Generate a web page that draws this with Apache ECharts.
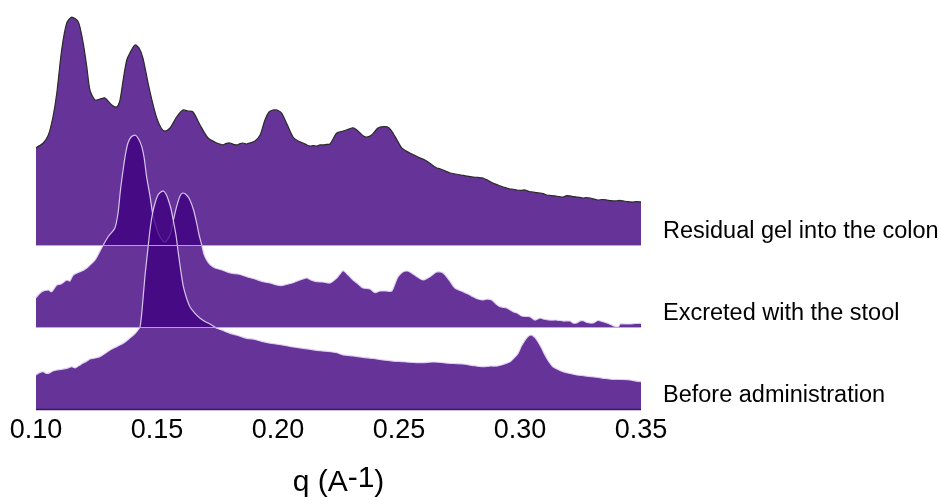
<!DOCTYPE html>
<html>
<head>
<meta charset="utf-8">
<title>SAXS ridgeline</title>
<script src="https://cdn.jsdelivr.net/npm/echarts@6/dist/echarts.min.js"></script>
<style>
  html, body { margin: 0; padding: 0; background: #ffffff; }
  #chart { width: 941px; height: 497px; }
</style>
</head>
<body>
<div id="chart"></div>
<script>
// Ridge names, bottom to top
const ridgeNames = ['Before administration', 'Excreted with the stool', 'Residual gel into the colon'];

// x tick labels
const qTicks = [0.10, 0.15, 0.20, 0.25, 0.30, 0.35];

// Residual gel into the colon
const qResidual = [0.1000,0.1030,0.1051,0.1070,0.1086,0.1106,0.1127,0.1148,0.1175,0.1195,0.1210,0.1223,0.1244,0.1264,0.1285,0.1313,0.1333,0.1347,0.1360,0.1375,0.1388,0.1409,0.1426,0.1442,0.1463,0.1479,0.1499,0.1517,0.1533,0.1554,0.1581,0.1607,0.1628,0.1649,0.1678,0.1711,0.1747,0.1760,0.1773,0.1787,0.1802,0.1816,0.1831,0.1843,0.1855,0.1870,0.1884,0.1905,0.1926,0.1946,0.1963,0.1979,0.1996,0.2015,0.2037,0.2062,0.2083,0.2103,0.2118,0.2132,0.2146,0.2160,0.2173,0.2186,0.2200,0.2215,0.2243,0.2269,0.2290,0.2310,0.2326,0.2339,0.2353,0.2367,0.2387,0.2413,0.2442,0.2459,0.2475,0.2492,0.2511,0.2528,0.2545,0.2562,0.2579,0.2593,0.2607,0.2620,0.2632,0.2644,0.2656,0.2669,0.2682,0.2697,0.2711,0.2733,0.2756,0.2781,0.2806,0.2826,0.2847,0.2868,0.2888,0.2909,0.2930,0.2945,0.2959,0.2973,0.2986,0.3004,0.3021,0.3038,0.3054,0.3069,0.3083,0.3096,0.3110,0.3128,0.3145,0.3162,0.3178,0.3193,0.3207,0.3221,0.3234,0.3247,0.3260,0.3275,0.3289,0.3306,0.3322,0.3340,0.3358,0.3376,0.3393,0.3410,0.3426,0.3445,0.3463,0.3482,0.3500];
const residual = [1.183,1.244,1.341,1.561,1.854,2.378,2.707,2.780,2.720,2.463,2.171,1.890,1.768,1.780,1.793,1.707,1.683,1.768,2.012,2.256,2.341,2.439,2.402,2.280,1.976,1.768,1.549,1.427,1.390,1.427,1.561,1.646,1.634,1.622,1.463,1.305,1.244,1.232,1.220,1.240,1.244,1.228,1.220,1.236,1.244,1.232,1.244,1.268,1.341,1.524,1.622,1.646,1.646,1.610,1.476,1.317,1.268,1.244,1.222,1.207,1.213,1.207,1.220,1.220,1.226,1.232,1.366,1.390,1.410,1.430,1.402,1.366,1.330,1.317,1.341,1.427,1.443,1.427,1.366,1.280,1.183,1.150,1.122,1.098,1.073,1.055,1.037,1.012,0.988,0.960,0.939,0.930,0.915,0.895,0.878,0.866,0.854,0.840,0.829,0.824,0.817,0.787,0.756,0.732,0.707,0.695,0.683,0.680,0.671,0.666,0.671,0.652,0.646,0.638,0.634,0.627,0.610,0.604,0.598,0.590,0.585,0.601,0.598,0.590,0.585,0.580,0.573,0.579,0.573,0.561,0.549,0.555,0.549,0.540,0.537,0.543,0.537,0.528,0.524,0.528,0.524];

// Excreted with the stool
const qExcreted = [0.1000,0.1024,0.1051,0.1065,0.1086,0.1103,0.1127,0.1140,0.1154,0.1182,0.1198,0.1216,0.1244,0.1271,0.1298,0.1326,0.1339,0.1349,0.1360,0.1370,0.1380,0.1393,0.1409,0.1424,0.1437,0.1447,0.1457,0.1471,0.1483,0.1498,0.1512,0.1533,0.1554,0.1568,0.1581,0.1595,0.1607,0.1622,0.1636,0.1651,0.1664,0.1674,0.1685,0.1694,0.1705,0.1719,0.1740,0.1769,0.1802,0.1835,0.1871,0.1905,0.1938,0.1967,0.1995,0.2017,0.2041,0.2062,0.2091,0.2119,0.2136,0.2160,0.2186,0.2215,0.2243,0.2256,0.2269,0.2290,0.2310,0.2331,0.2351,0.2380,0.2401,0.2421,0.2446,0.2470,0.2483,0.2496,0.2517,0.2533,0.2545,0.2570,0.2599,0.2628,0.2656,0.2682,0.2707,0.2731,0.2764,0.2785,0.2806,0.2826,0.2847,0.2864,0.2883,0.2901,0.2917,0.2945,0.2971,0.2988,0.3007,0.3025,0.3041,0.3062,0.3083,0.3095,0.3124,0.3152,0.3178,0.3207,0.3219,0.3234,0.3248,0.3260,0.3277,0.3302,0.3322,0.3343,0.3360,0.3379,0.3388,0.3400,0.3409,0.3413,0.3434,0.3455,0.3479,0.3500];
const excreted = [0.354,0.430,0.451,0.430,0.512,0.524,0.573,0.561,0.634,0.674,0.695,0.735,0.817,0.963,1.101,1.207,1.390,1.671,1.915,2.110,2.244,2.317,2.341,2.293,2.199,2.061,1.833,1.598,1.366,1.207,1.101,1.037,1.122,1.305,1.467,1.598,1.634,1.610,1.549,1.427,1.268,1.122,1.000,0.890,0.817,0.762,0.720,0.695,0.659,0.646,0.613,0.585,0.552,0.537,0.512,0.506,0.524,0.540,0.573,0.598,0.573,0.552,0.549,0.537,0.598,0.646,0.687,0.634,0.573,0.524,0.476,0.463,0.418,0.439,0.439,0.439,0.524,0.613,0.674,0.683,0.671,0.622,0.573,0.613,0.671,0.659,0.573,0.476,0.430,0.402,0.370,0.341,0.329,0.341,0.329,0.280,0.248,0.232,0.187,0.171,0.134,0.128,0.126,0.085,0.110,0.098,0.085,0.085,0.073,0.073,0.049,0.049,0.073,0.077,0.055,0.049,0.079,0.065,0.049,0.024,0.012,0.000,0.012,0.037,0.037,0.037,0.043,0.045];

// Before administration
const qBefore = [0.1000,0.1012,0.1029,0.1045,0.1058,0.1070,0.1086,0.1103,0.1127,0.1148,0.1161,0.1178,0.1195,0.1211,0.1223,0.1244,0.1264,0.1285,0.1306,0.1326,0.1347,0.1368,0.1388,0.1403,0.1416,0.1430,0.1440,0.1450,0.1461,0.1471,0.1481,0.1492,0.1502,0.1512,0.1526,0.1537,0.1547,0.1558,0.1567,0.1579,0.1588,0.1599,0.1609,0.1622,0.1636,0.1657,0.1678,0.1698,0.1719,0.1747,0.1773,0.1802,0.1835,0.1871,0.1905,0.1938,0.1975,0.2021,0.2062,0.2103,0.2136,0.2174,0.2215,0.2243,0.2269,0.2310,0.2351,0.2393,0.2434,0.2475,0.2517,0.2558,0.2599,0.2640,0.2682,0.2723,0.2764,0.2806,0.2847,0.2876,0.2904,0.2930,0.2959,0.2975,0.2992,0.3006,0.3021,0.3033,0.3048,0.3062,0.3074,0.3089,0.3103,0.3120,0.3136,0.3157,0.3178,0.3207,0.3234,0.3273,0.3317,0.3351,0.3384,0.3417,0.3455,0.3479,0.3500];
const before = [0.415,0.439,0.455,0.433,0.443,0.463,0.476,0.482,0.496,0.516,0.500,0.530,0.561,0.585,0.610,0.622,0.638,0.677,0.720,0.750,0.780,0.817,0.866,0.902,0.943,1.004,1.268,1.613,1.915,2.183,2.378,2.512,2.598,2.638,2.659,2.622,2.549,2.439,2.305,2.110,1.902,1.671,1.491,1.354,1.248,1.165,1.106,1.067,1.037,0.984,0.957,0.923,0.896,0.862,0.848,0.821,0.799,0.780,0.756,0.740,0.726,0.711,0.699,0.687,0.659,0.646,0.630,0.616,0.598,0.585,0.577,0.567,0.565,0.573,0.565,0.555,0.549,0.530,0.516,0.524,0.524,0.543,0.577,0.622,0.679,0.768,0.841,0.884,0.902,0.872,0.821,0.744,0.659,0.573,0.516,0.482,0.455,0.433,0.415,0.402,0.387,0.372,0.362,0.360,0.354,0.341,0.333];

// Vertical offset of each ridge (in ridge units)
const offsets = [0, 1, 2];

const FILL = 'rgba(64,0,128,0.8)';
const FONT = '"Liberation Sans", Arial, Helvetica, sans-serif';
const SMOOTH = 0.25;

function pairs(xs, ys) { return xs.map((x, i) => [x, ys[i]]); }

// Bounding box of a point list, used to keep the smoothed curve inside it
function bbox(points) {
  const min = [Infinity, Infinity], max = [-Infinity, -Infinity];
  points.forEach(p => {
    min[0] = Math.min(min[0], p[0]); min[1] = Math.min(min[1], p[1]);
    max[0] = Math.max(max[0], p[0]); max[1] = Math.max(max[1], p[1]);
  });
  return [min, max];
}

// One filled ridge: polygon from the baseline up to the curve, plus its outline
function ridgeSeries(name, xs, ys, offset, lineColor) {
  return {
    name: name,
    type: 'custom',
    coordinateSystem: 'cartesian2d',
    data: pairs(xs, ys),
    encode: { x: 0, y: 1 },
    silent: true,
    z: 2,
    renderItem: function (params, api) {
      if (params.dataIndex !== 0) return null;
      const top = xs.map((x, i) => api.coord([x, offset + ys[i]]));
      const poly = top.concat([
        api.coord([xs[xs.length - 1], offset]),
        api.coord([xs[0], offset])
      ]);
      const box = bbox(poly);
      return {
        type: 'group',
        children: [
          {
            type: 'polygon',
            shape: { points: poly, smooth: SMOOTH, smoothConstraint: box },
            style: { fill: FILL, stroke: null }
          },
          {
            type: 'polyline',
            shape: { points: top, smooth: SMOOTH, smoothConstraint: box },
            style: { stroke: lineColor, lineWidth: 1.2, fill: null }
          }
        ]
      };
    }
  };
}

// Baselines drawn above the fills
const baseColors = ['#3b155f', 'rgba(190,160,228,0.95)', 'rgba(190,160,228,0.95)'];
const baselineSeries = {
  type: 'custom',
  coordinateSystem: 'cartesian2d',
  data: offsets.map(o => [qTicks[0], o]),
  encode: { x: 0, y: 1 },
  silent: true,
  z: 5,
  renderItem: function (params, api) {
    const o = offsets[params.dataIndex];
    const a = api.coord([qTicks[0], o]);
    const b = api.coord([qTicks[qTicks.length - 1], o]);
    return {
      type: 'line',
      shape: { x1: a[0], y1: a[1] + 0.5, x2: b[0], y2: b[1] + 0.5 },
      style: { stroke: baseColors[params.dataIndex], lineWidth: params.dataIndex === 0 ? 1.6 : 1.2 }
    };
  }
};

const series = [
  ridgeSeries(ridgeNames[2], qResidual, residual, offsets[2], '#2a2a2a'),
  ridgeSeries(ridgeNames[1], qExcreted, excreted, offsets[1], 'rgba(228,214,246,0.9)'),
  ridgeSeries(ridgeNames[0], qBefore, before, offsets[0], 'rgba(228,214,246,0.9)'),
  baselineSeries
];

const chart = echarts.init(document.getElementById('chart'), null, { renderer: 'canvas' });
chart.setOption({
  animation: false,
  backgroundColor: '#ffffff',
  grid: { left: 36, right: 300, top: 7.2, bottom: 88, outerBoundsMode: 'none', containLabel: false },
  xAxis: {
    type: 'value',
    min: qTicks[0],
    max: qTicks[qTicks.length - 1],
    interval: 0.05,
    axisLine: { show: false },
    axisTick: { show: false },
    splitLine: { show: false },
    axisLabel: {
      color: '#000',
      fontFamily: FONT,
      fontSize: 27,
      margin: 8,
      formatter: v => v.toFixed(2)
    },
    name: '{a|q (A}{s|-1}{a|)}',
    nameLocation: 'middle',
    nameGap: 55,
    nameTextStyle: {
      rich: {
        a: { fontFamily: FONT, fontSize: 30, color: '#000', lineHeight: 34, verticalAlign: 'bottom' },
        s: { fontFamily: FONT, fontSize: 30, color: '#000', lineHeight: 12, verticalAlign: 'top' }
      }
    }
  },
  yAxis: {
    type: 'value',
    position: 'right',
    min: 0,
    max: 4.9,
    interval: 1,
    axisLine: { show: false },
    axisTick: { show: false },
    splitLine: { show: false },
    axisLabel: {
      color: '#000',
      fontFamily: FONT,
      fontSize: 23.5,
      margin: 22,
      verticalAlign: 'bottom',
      lineHeight: 26,
      formatter: v => ridgeNames[v] || ''
    }
  },
  series: series
});
</script>
</body>
</html>
